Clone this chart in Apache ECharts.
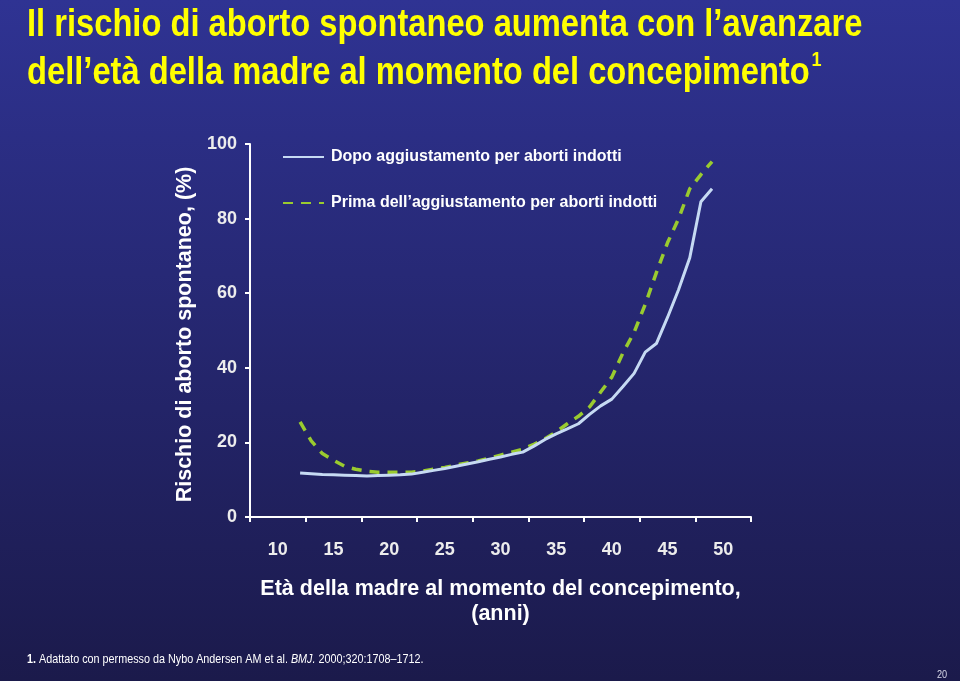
<!DOCTYPE html>
<html>
<head>
<meta charset="utf-8">
<style>
    html, body { margin: 0; padding: 0; width: 960px; height: 681px; overflow: hidden; }
    #chart { width: 960px; height: 681px; }
</style>
<script src="https://cdn.jsdelivr.net/npm/echarts@6/dist/echarts.min.js"></script>
</head>
<body>
<div id="chart"></div>
<script>
/* dati: età (anni) e rischio (%) */
var ages = [12, 13, 14, 15, 16, 17, 18, 19, 20, 21, 22, 23, 24, 25, 26, 27, 28, 29, 30, 31,
    32, 33, 34, 35, 36, 37, 38, 39, 40, 41, 42, 43, 44, 45, 46, 47, 48, 49];
var dopoAggiustamento = [11.8, 11.6, 11.4, 11.3, 11.2, 11.1, 11.0, 11.1, 11.2, 11.3,
    11.5, 12.0, 12.5, 13.0, 13.6, 14.2, 14.8, 15.5, 16.1, 16.8,
    17.4, 19.0, 20.8, 22.3, 23.6, 25.0, 27.5, 29.8, 31.6, 35.0,
    38.5, 44.2, 46.5, 53.5, 61.0, 69.5, 84.5, 88.0];
var primaAggiustamento = [25.5, 20.4, 17.0, 15.2, 13.6, 12.8, 12.3, 12.0, 12.0, 12.0,
    12.0, 12.3, 12.8, 13.3, 13.9, 14.5, 15.0, 15.8, 16.6, 17.4,
    18.2, 19.5, 21.0, 22.8, 25.0, 27.0, 29.5, 33.5, 37.5, 44.0,
    49.5, 57.0, 65.5, 73.5, 80.0, 88.0, 91.8, 95.3];
var seriesNames = ['Dopo aggiustamento per aborti indotti', 'Prima dell’aggiustamento per aborti indotti'];
var xTickLabels = [10, 15, 20, 25, 30, 35, 40, 45, 50];
var xTickMarks = [7.5, 12.5, 17.5, 22.5, 27.5, 32.5, 37.5, 42.5, 47.5, 52.5];

(function () {
    var boldFont = "'Liberation Sans', Arial, sans-serif";
    // niente Arial Narrow: Liberation Sans compressa in orizzontale
    var titleScale = 0.86;
    var noteScale = 0.83;

    function pairs(values) {
        return ages.map(function (a, i) {
            return [a, values[i]];
        });
    }

    var chart = echarts.init(document.getElementById('chart'));
    var option = {
        backgroundColor: {
            type: 'linear', x: 0, y: 0, x2: 0, y2: 1,
            colorStops: [
                {offset: 0, color: '#2f3393'},
                {offset: 1, color: '#1b1a4b'}
            ]
        },
        animation: false,
        legend: {
            orient: 'vertical',
            left: 277,
            top: 144,
            itemWidth: 41,
            itemHeight: 14,
            itemGap: 30,
            data: seriesNames,
            itemStyle: {opacity: 0},
            textStyle: {
                color: '#ffffff',
                fontFamily: boldFont,
                fontWeight: 'bold',
                fontSize: 16,
                padding: [0, 0, 0, 2]
            }
        },
        grid: {
            left: 250,
            right: 209,
            top: 144,
            bottom: 164
        },
        xAxis: {
            type: 'value',
            min: 7.5,
            max: 52.5,
            name: 'Età della madre al momento del concepimento,\n(anni)',
            nameLocation: 'middle',
            nameGap: 60,
            nameTextStyle: {
                color: '#ffffff',
                fontFamily: boldFont,
                fontWeight: 'bold',
                fontSize: 21.5,
                lineHeight: 25
            },
            splitLine: {show: false},
            axisLine: {lineStyle: {color: '#ffffff', width: 2}},
            axisTick: {
                customValues: xTickMarks,
                length: 5,
                lineStyle: {color: '#ffffff', width: 2}
            },
            axisLabel: {
                customValues: xTickLabels,
                margin: 24,
                color: '#ececec',
                fontFamily: boldFont,
                fontWeight: 'bold',
                fontSize: 18
            }
        },
        yAxis: {
            type: 'value',
            min: 0,
            max: 100,
            interval: 20,
            name: 'Rischio di aborto spontaneo, (%)',
            nameLocation: 'middle',
            nameGap: 49,
            nameRotate: 90,
            nameTextStyle: {
                color: '#ffffff',
                fontFamily: boldFont,
                fontWeight: 'bold',
                fontSize: 21.5,
                padding: [0, 8, 0, 0]
            },
            splitLine: {show: false},
            axisLine: {show: true, lineStyle: {color: '#ffffff', width: 2}},
            axisTick: {show: true, length: 5, lineStyle: {color: '#ffffff', width: 2}},
            axisLabel: {
                margin: 13,
                color: '#ececec',
                fontFamily: boldFont,
                fontWeight: 'bold',
                fontSize: 18
            }
        },
        series: [
            {
                name: seriesNames[0],
                type: 'line',
                symbol: 'none',
                data: pairs(dopoAggiustamento),
                z: 3,
                itemStyle: {color: '#c6daf3'},
                lineStyle: {color: '#c6daf3', width: 3}
            },
            {
                name: seriesNames[1],
                type: 'line',
                symbol: 'none',
                data: pairs(primaAggiustamento),
                z: 2,
                itemStyle: {color: '#9acb2f'},
                lineStyle: {color: '#9acb2f', width: 3.5, type: [10, 8]}
            }
        ],
        graphic: [
            {
                type: 'text',
                x: 27,
                y: 2,
                scaleX: titleScale,
                style: {
                    text: 'Il rischio di aborto spontaneo aumenta con l’avanzare\ndell’età della madre al momento del concepimento{sup|1}',
                    fill: '#ffff00',
                    font: "bold 38px 'Liberation Sans', Arial, sans-serif",
                    lineHeight: 48,
                    rich: {
                        sup: {
                            fill: '#ffff00',
                            fontFamily: boldFont,
                            fontWeight: 'bold',
                            fontSize: 21,
                            lineHeight: 48,
                            verticalAlign: 'top',
                            padding: [0, 0, 14, 2]
                        }
                    }
                }
            },
            {
                type: 'text',
                x: 27,
                y: 653,
                scaleX: noteScale,
                style: {
                    text: '{b|1.} Adattato con permesso da Nybo Andersen AM et al. {i|BMJ.} 2000;320:1708–1712.',
                    fill: '#ffffff',
                    font: "13px 'Liberation Sans', Arial, sans-serif",
                    rich: {
                        b: {fontWeight: 'bold', fill: '#ffffff', fontFamily: boldFont, fontSize: 13},
                        i: {fontStyle: 'italic', fill: '#ffffff', fontFamily: boldFont, fontSize: 13}
                    }
                }
            },
            {
                type: 'text',
                x: 937,
                y: 669,
                scaleX: noteScale,
                style: {
                    text: '20',
                    fill: '#d8d8e8',
                    font: "11px 'Liberation Sans', Arial, sans-serif"
                }
            }
        ]
    };
    chart.setOption(option);

    window.addEventListener('resize', function () {
        chart.resize();
    });
})();
</script>
</body>
</html>
